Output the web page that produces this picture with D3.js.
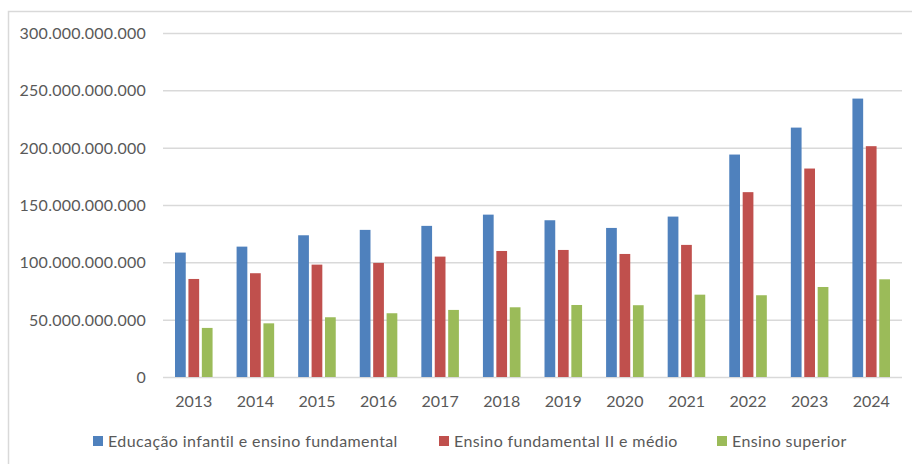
<!DOCTYPE html>
<html><head><meta charset="utf-8">
<script src="https://cdn.jsdelivr.net/npm/d3@7"></script>
<style>html,body{margin:0;padding:0;background:#fff;} svg{display:block;}</style>
</head><body>
<script>
const years = ["2013","2014","2015","2016","2017","2018","2019","2020","2021","2022","2023","2024"];
const seriesNames = ["Educação infantil e ensino fundamental","Ensino fundamental II e médio","Ensino superior"];
const infantilFundamental = [108.5e9,113.7e9,123.6e9,128.3e9,131.8e9,141.6e9,136.7e9,130.0e9,139.9e9,194.0e9,217.5e9,242.8e9];
const fundamentalMedio = [85.5e9,90.5e9,98.0e9,99.5e9,105.0e9,109.9e9,110.8e9,107.3e9,115.2e9,161.2e9,181.8e9,201.3e9];
const superior = [42.8e9,46.8e9,52.1e9,55.6e9,58.5e9,60.8e9,62.8e9,62.6e9,71.8e9,71.3e9,78.5e9,85.2e9];
const yTicks = [0,50e9,100e9,150e9,200e9,250e9,300e9];
const colors = ["#4F81BD","#C0504D","#9BBB59"];

const W=912,H=464;
const font = "Lato, 'Open Sans', sans-serif";
const svg = d3.select("body").append("svg").attr("width",W).attr("height",H);

svg.append("rect").attr("x",8.5).attr("y",11.5).attr("width",W+20).attr("height",H+20)
  .attr("fill","none").attr("stroke","#D9D9D9").attr("stroke-width",1.5);

const x0 = d3.scaleBand().domain(years).range([163,902]).paddingInner(0.39).paddingOuter(0.195);
const x1 = d3.scaleBand().domain([0,1,2]).range([0,x0.bandwidth()]).paddingInner(0.2);
const y = d3.scaleLinear().domain([0,300e9]).range([377,33]);

const fmt = v => v===0 ? "0" : d3.format(",")(v).replace(/,/g,".");

// grid
const yAxis = d3.axisLeft(y).tickValues(yTicks).tickSize(-(902-163)).tickFormat(fmt).tickPadding(17);
const gy = svg.append("g").attr("transform","translate(163,0)").call(yAxis);
gy.select(".domain").remove();
gy.selectAll(".tick line").attr("stroke","#D9D9D9").attr("stroke-width",1.5);
gy.selectAll(".tick text").attr("fill","#595959").style("font-family",font).style("font-size","16px")
  .style("letter-spacing","0.25px").attr("dy","0.35em");

const data = [infantilFundamental, fundamentalMedio, superior];
const groups = svg.append("g").selectAll("g").data(years).join("g")
  .attr("transform", d => `translate(${x0(d)},0)`);
groups.selectAll("rect").data((d,i)=>data.map((s,k)=>({k, v:s[i]}))).join("rect")
  .attr("x", d=>x1(d.k)).attr("width", x1.bandwidth())
  .attr("y", d=>y(d.v)).attr("height", d=>y(0)-y(d.v))
  .attr("fill", d=>colors[d.k]);

const xAxis = d3.axisBottom(x0).tickSize(0).tickPadding(19);
const gx = svg.append("g").attr("transform","translate(0,377)").call(xAxis);
gx.select(".domain").remove();
gx.selectAll(".tick text").attr("fill","#595959").style("font-family",font).style("font-size","16px");

// legend
const legX = [93, 439, 717];
const leg = svg.append("g").selectAll("g").data(seriesNames).join("g")
  .attr("transform",(d,i)=>`translate(${legX[i]},441)`);
leg.append("rect").attr("x",0).attr("y",-5).attr("width",10).attr("height",10).attr("fill",(d,i)=>colors[i]);
leg.append("text").attr("x",15).attr("dy","0.35em").text(d=>d)
  .attr("fill","#595959").style("font-family",font).style("font-size","16px").style("letter-spacing","0.4px");
</script>
</body></html>
